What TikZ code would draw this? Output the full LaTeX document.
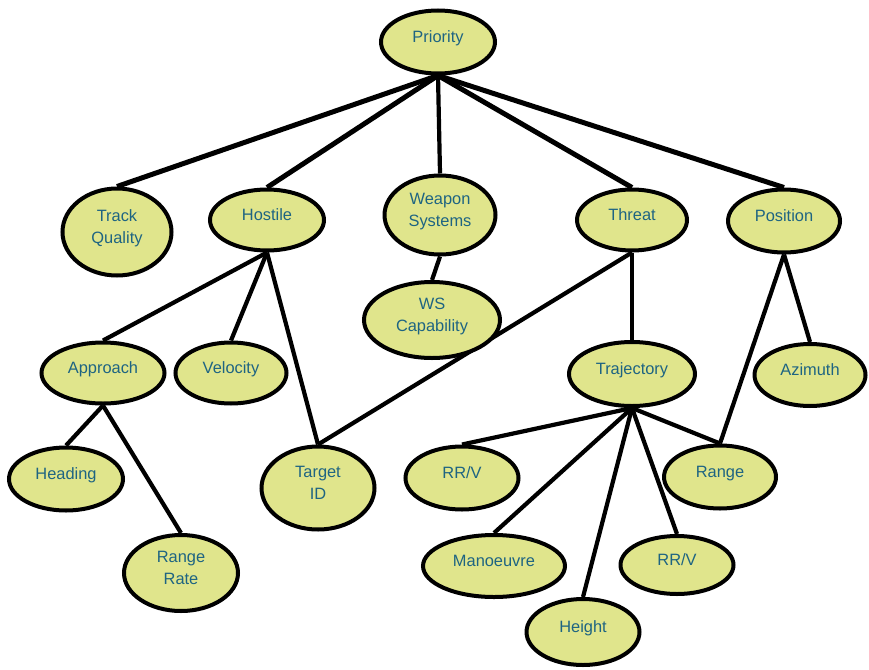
\documentclass[tikz,border=0pt]{standalone}
\usepackage{fontspec}
\setmainfont{Liberation Sans}
\usetikzlibrary{shapes.geometric,backgrounds}
\definecolor{ovalfill}{RGB}{224,229,140}
\definecolor{ovaltext}{RGB}{30,100,130}
\newcommand\ovtxt[1]{\raisebox{4pt}[\height][\depth]{\begin{tabular}{@{}c@{}}#1\end{tabular}}}
\begin{document}
\begin{tikzpicture}[x=1pt,y=-1pt,
  oval/.style={ellipse,draw=black,line width=4pt,fill=ovalfill,inner sep=0pt,
    text=ovaltext,font=\fontsize{16.4}{22}\selectfont},
  link/.style={line width=4.2pt,draw=black},
  toplink/.style={line width=5pt,draw=black}]
\useasboundingbox (0,0) rectangle (869,669);
% level 0
\node[oval,minimum width=114pt,minimum height=63pt] (pri) at (438,42) {\ovtxt{Priority}};
% level 1
\node[oval,minimum width=109pt,minimum height=87pt] (tq) at (117,232) {\ovtxt{Track\\Quality}};
\node[oval,minimum width=114pt,minimum height=61pt] (hos) at (267,220) {\ovtxt{Hostile}};
\node[oval,minimum width=111pt,minimum height=79pt] (ws) at (440,215) {\ovtxt{Weapon\\Systems}};
\node[oval,minimum width=110pt,minimum height=61pt] (thr) at (632,220) {\ovtxt{Threat}};
\node[oval,minimum width=112pt,minimum height=63pt] (pos) at (784,221) {\ovtxt{Position}};
% level 2
\node[oval,minimum width=136pt,minimum height=76pt] (wsc) at (432,320) {\ovtxt{WS\\Capability}};
\node[oval,minimum width=123pt,minimum height=61pt] (app) at (103,373) {\ovtxt{Approach}};
\node[oval,minimum width=111pt,minimum height=61pt] (vel) at (231,373) {\ovtxt{Velocity}};
\node[oval,minimum width=126pt,minimum height=64pt] (traj) at (632,374) {\ovtxt{Trajectory}};
\node[oval,minimum width=111pt,minimum height=62pt] (azi) at (810,375) {\ovtxt{Azimuth}};
% level 3
\node[oval,minimum width=114pt,minimum height=63pt] (head) at (66,479) {\ovtxt{Heading}};
\node[oval,minimum width=113pt,minimum height=83pt] (tid) at (318,488) {\ovtxt{Target\\ID}};
\node[oval,minimum width=113pt,minimum height=63pt] (rrv1) at (462,478) {\ovtxt{RR/V}};
\node[oval,minimum width=112pt,minimum height=63pt] (rng) at (720,477) {\ovtxt{Range}};
% level 4
\node[oval,minimum width=114pt,minimum height=76pt] (rr) at (181,573) {\ovtxt{Range\\Rate}};
\node[oval,minimum width=142pt,minimum height=62pt] (man) at (494,566) {\ovtxt{Manoeuvre}};
\node[oval,minimum width=113pt,minimum height=58pt] (rrv2) at (677,565) {\ovtxt{RR/V}};
\node[oval,minimum width=113pt,minimum height=66pt] (hgt) at (583,632) {\ovtxt{Height}};
\begin{scope}[on background layer]
\fill[white] (0,0) rectangle (869,669);
\draw[toplink] (pri.south) -- (tq.north);
\draw[toplink] (pri.south) -- (hos.north);
\draw[link] (pri.south) -- (ws.north);
\draw[toplink] (pri.south) -- (thr.north);
\draw[toplink] (pri.south) -- (pos.north);
\draw[link] (ws.south) -- (wsc.north);
\draw[link] (hos.south) -- (app.north);
\draw[link] (hos.south) -- (vel.north);
\draw[link] (hos.south) -- (tid.north);
\draw[link] (thr.south) -- (tid.north);
\draw[link] (thr.south) -- (traj.north);
\draw[link] (pos.south) -- (rng.north);
\draw[link] (pos.south) -- (azi.north);
\draw[link] (app.south) -- (head.north);
\draw[link] (app.south) -- (rr.north);
\draw[link] (traj.south) -- (rrv1.north);
\draw[link] (traj.south) -- (man.north);
\draw[link] (traj.south) -- (hgt.north);
\draw[link] (traj.south) -- (rrv2.north);
\draw[link] (traj.south) -- (rng.north);
\end{scope}
\end{tikzpicture}
\end{document}
